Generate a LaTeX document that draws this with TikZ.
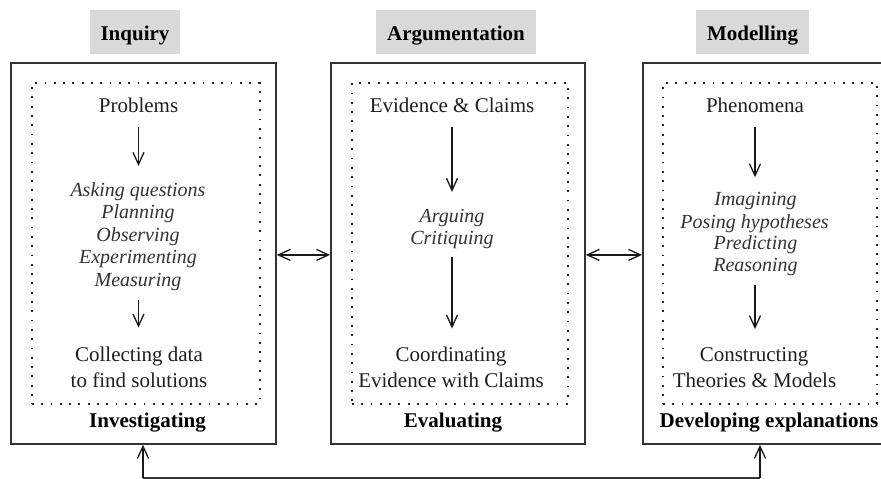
\documentclass[tikz,border=0pt]{standalone}
\usepackage{fontspec}
\setmainfont{Liberation Serif}
\usetikzlibrary{arrows.meta}
\definecolor{hdrgray}{RGB}{217,217,217}
\tikzset{
 outerbox/.style={draw=black!80, line width=1.8pt, inner sep=0pt, anchor=north west},
 dotbox/.style={draw=black!85, line width=1.8pt, dash pattern=on 1.8pt off 7.5pt, inner sep=0pt, anchor=north west},
 header/.style={fill=hdrgray, font=\fontsize{21}{25}\selectfont\bfseries, text height=30pt, text depth=14pt, inner sep=0pt, anchor=base},
 reg/.style={font=\fontsize{21}{25}\selectfont, text=black!88, inner sep=0pt, anchor=base},
 ital/.style={font=\fontsize{20}{24}\selectfont\itshape, text=black!80, inner sep=0pt, anchor=base},
 boldlab/.style={font=\fontsize{21}{25}\selectfont\bfseries, inner sep=0pt, anchor=base},
 arr/.style={-{Straight Barb[length=12pt,width=11pt]}, line width=1.3pt, black!90},
 darr/.style={{Straight Barb[length=12pt,width=11pt]}-{Straight Barb[length=12pt,width=11pt]}, line width=1.3pt, black!90},
}
\begin{document}
\begin{tikzpicture}[x=1pt,y=-1pt]
\useasboundingbox (0,0) rectangle (881,479);
\clip (0,0) rectangle (881,479);
\fill[white] (0,0) rectangle (881,479);

% ---------- Inquiry ----------
\node[header, minimum width=90pt] (hA) at (135,40) {Inquiry};
\node[outerbox, minimum width=265pt, minimum height=381pt] (boxA) at (10,62) {};
\node[dotbox, minimum width=228pt, minimum height=321pt] (dotA) at (31,82) {};
\node[reg] (pA) at (138.5,112) {Problems};
\node[ital] (iA1) at (138,196) {Asking questions};
\node[ital] (iA2) at (138,218.5) {Planning};
\node[ital] (iA3) at (138,241) {Observing};
\node[ital] (iA4) at (138,263.5) {Experimenting};
\node[ital] (iA5) at (138,286) {Measuring};
\node[reg] (cA1) at (139,361) {Collecting data};
\node[reg] (cA2) at (139,387) {to find solutions};
\node[boldlab] (lA) at (147.5,427) {Investigating};
\draw[arr, shorten <=15pt, shorten >=16pt] (pA.south) -- (pA.south |- iA1.north);
\draw[arr, shorten <=9.6pt, shorten >=18.7pt] (pA.south |- iA5.south) -- (pA.south |- cA1.north);

% ---------- Argumentation ----------
\node[header, minimum width=160pt] (hB) at (456,40) {Argumentation};
\node[outerbox, minimum width=254pt, minimum height=381pt] (boxB) at (330,62) {};
\node[dotbox, minimum width=216pt, minimum height=321pt] (dotB) at (351,82) {};
\node[reg] (pB) at (452,112) {Evidence \& Claims};
\node[ital] (iB1) at (452,222) {Arguing};
\node[ital] (iB2) at (452,244.5) {Critiquing};
\node[reg] (cB1) at (451,361) {Coordinating};
\node[reg] (cB2) at (451,387) {Evidence with Claims};
\node[boldlab] (lB) at (453,427) {Evaluating};
\draw[arr, shorten <=15pt, shorten >=16.7pt] (pB.south) -- (pB.south |- iB1.north);
\draw[arr, shorten <=8pt, shorten >=17.7pt] (pB.south |- iB2.south) -- (pB.south |- cB1.north);

% ---------- Modelling ----------
\node[header, minimum width=113pt] (hC) at (752.5,40) {Modelling};
\node[outerbox, minimum width=251pt, minimum height=381pt] (boxC) at (642,62) {};
\node[dotbox, minimum width=214pt, minimum height=321pt] (dotC) at (662,82) {};
\node[reg] (pC) at (755,112) {Phenomena};
\node[ital] (iC1) at (755.5,205.5) {Imagining};
\node[ital] (iC2) at (754.5,228) {Posing hypotheses};
\node[ital] (iC3) at (755.5,249.5) {Predicting};
\node[ital] (iC4) at (755.5,271.5) {Reasoning};
\node[reg] (cC1) at (754,361) {Constructing};
\node[reg] (cC2) at (754.5,387) {Theories \& Models};
\node[boldlab] (lC) at (769,427) {Developing explanations};
\draw[arr, shorten <=15pt, shorten >=14.8pt] (pC.south) -- (pC.south |- iC1.north);
\draw[arr, shorten <=8.6pt, shorten >=17.8pt] (pC.south |- iC4.south) -- (pC.south |- cC1.north);

% ---------- links ----------
\draw[darr] ([yshift=-1.5pt]boxA.east) -- ([yshift=-1.5pt]boxB.west);
\draw[darr] ([yshift=-1.5pt]boxB.east) -- ([yshift=-1.5pt]boxC.west);
\coordinate (bl) at (143,478);
\coordinate (br) at (760,478);
\draw[line width=1.2pt, black!80] (bl) -- (br);
\draw[arr] (bl) -- (bl |- boxA.south);
\draw[arr] (br) -- (br |- boxC.south);
\end{tikzpicture}
\end{document}
